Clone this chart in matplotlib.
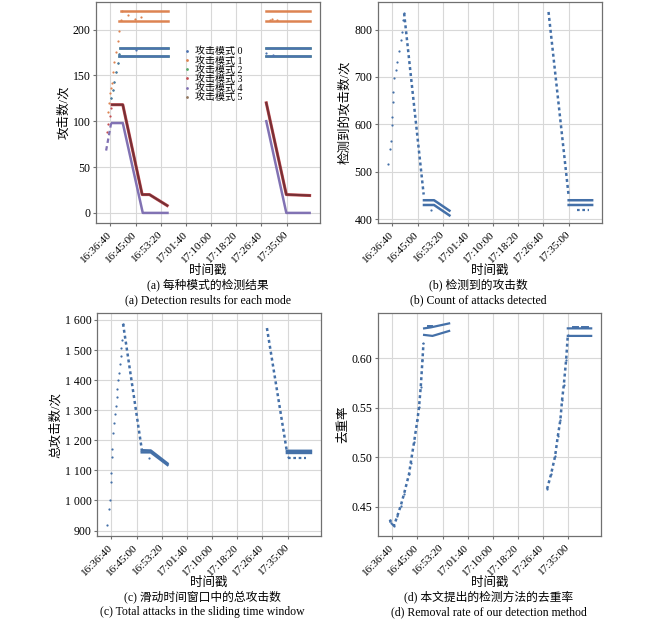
import matplotlib
matplotlib.use('Agg')
import matplotlib.pyplot as plt
from matplotlib.ticker import FuncFormatter, MultipleLocator

plt.rcParams['font.family'] = ['Liberation Serif', 'Noto Sans CJK SC']
plt.rcParams['axes.unicode_minus'] = False

# time in seconds after 16:36:40
T0 = 16 * 3600 + 36 * 60 + 40
xticks = [0, 500, 1000, 1500, 2000, 2500, 3000, 3500]

BLUE = '#4470a8'
mode_colors = ['#4c72b0', '#dd8452', '#55a868', '#c44e52', '#8172b3', '#937860']
mode_names = ['攻击模式 0', '攻击模式 1', '攻击模式 2', '攻击模式 3', '攻击模式 4', '攻击模式 5']

# ---- (a) detection result of each mode ----
m0_ramp_t = [14, 46, 80, 113, 145, 179]
m0_ramp_v = [125, 134, 143, 154, 163, 173]
m0_hi_t = [199, 1135, None, 3082, 3960]
m0_hi_v = [180, 180, None, 180, 180]
m0_lo_t = [165, 1135, None, 3082, 3960]
m0_lo_v = [171, 171, None, 171, 171]
m0_out_t = [511, 3082, 3227]
m0_out_v = [178, 174, 172]

m1_ramp_t = [-54, -20, 0, 14, 26, 46, 80, 113, 145, 179, 213, 233]
m1_ramp_v = [110, 120, 131, 136, 142, 154, 165, 176, 187, 198, 210, 220]
m1_hi_t = [213, 1139, None, 3082, 3960]
m1_hi_v = [220, 220, None, 220, 220]
m1_lo_t = [179, 1139, None, 3082, 3960]
m1_lo_v = [209, 209, None, 209, 209]
m1_out_t = [344, 482, 610, 3161, 3215, 3307]
m1_out_v = [215.5, 211, 214, 210, 211, 210.5]

m3_t = [34, 245, 630, 775, 1127, None, 3095, 3493, 3956]
m3_v = [118, 118, 20, 20, 8, None, 120, 20, 19]
m3_ramp_t = [-70, -40, -10, 15]
m3_ramp_v = [88, 97, 106, 114]

m4_t = [34, 245, 642, 1133, None, 3095, 3493, 3956]
m4_v = [98, 98, 0, 0, None, 100, 0, 0]
m4_ramp_t = [-86, 14]
m4_ramp_v = [68, 98]

# ---- (b) detected attacks ----
b_ramp_t = [-88, -48, -34, -14, -14, 12, 12, 32, 66, 100, 132, 166, 186, 212, 232]
b_ramp_v = [517, 547, 565, 598, 615, 648, 668, 697, 715, 732, 755, 778, 795, 820, 834]
b_down_t = [232, 620, None, 3100, 3500]
b_down_v = [834, 452, None, 837, 449]
b_hi_t = [626, 826, 1132, None, 3500, 3966]
b_hi_v = [440, 440, 418, None, 440, 440]
b_lo_t = [626, 826, 1132, None, 3500, 3966]
b_lo_v = [430, 430, 408, None, 430, 430]
b_low_t = [3666, 3900]
b_low_v = [420, 420]
b_out_t = [760]
b_out_v = [420]

# ---- (c) total attacks in sliding window ----
c_ramp_t = [-80, -48, -34, -14, -14, 6, 20, 40, 52, 66, 85, 105, 119, 139, 151, 165, 185, 199, 205, 231]
c_ramp_v = [917, 972, 1002, 1060, 1090, 1144, 1172, 1225, 1258, 1287, 1313, 1344, 1369, 1399, 1424,
            1454, 1479, 1508, 1534, 1587]
c_down_t = [231, 602, None, 3088, 3485]
c_down_v = [1587, 1170, None, 1573, 1162]
c_hi_t = [602, 781, 1113, None, 3485, 3962]
c_hi_v = [1167, 1166, 1123, None, 1165, 1165]
c_lo_t = [602, 781, 1113, None, 3485, 3962]
c_lo_v = [1160, 1160, 1118, None, 1158, 1158]
c_low_t = [3500, 3870]
c_low_v = [1140, 1140]
c_out_t = [740, 3510]
c_out_v = [1140, 1145]

# ---- (d) removal rate ----
d_rise_t = [-48, -34, -14, 32, 100, 166, 232, 332, 366, 432, 500, 532, 566, 600, 620, None,
            3086, 3166, 3246, 3300, 3352, 3386, 3420, 3466, 3500]
d_rise_v = [0.437, 0.434, 0.433, 0.431, 0.441, 0.451, 0.463, 0.483, 0.4945, 0.515, 0.538, 0.551,
            0.571, 0.598, 0.615, None, 0.468, 0.483, 0.501, 0.521, 0.538, 0.558, 0.573, 0.598, 0.623]
d_hi_t = [633, 766, 1132, None, 3500, 3966]
d_hi_v = [0.630, 0.631, 0.635, None, 0.630, 0.630]
d_lo_t = [633, 800, 1132, None, 3500, 3966]
d_lo_v = [0.6234, 0.6224, 0.6274, None, 0.6224, 0.6224]
d_mid_t = [720, 790, None, 3600, 3700, None, 3780, 3900]
d_mid_v = [0.632, 0.632, None, 0.6315, 0.6315, None, 0.6315, 0.6315]


def nan(v):
    return [float('nan') if x is None else x for x in v]


def fmt_time(t, pos):
    s = int(round(T0 + t))
    return '%02d:%02d:%02d' % (s // 3600, (s // 60) % 60, s % 60)


def fmt_thousand(v, pos):
    v = int(round(v))
    if v >= 1000:
        return '%d %03d' % (v // 1000, v % 1000)
    return '%d' % v


def style(ax, ylabel):
    ax.set_xticks(xticks)
    ax.xaxis.set_major_formatter(FuncFormatter(fmt_time))
    ax.set_xlim(-287, 4162)
    ax.grid(True, color='#d8d8d8', lw=0.8)
    ax.set_axisbelow(True)
    for s in ax.spines.values():
        s.set_color('#707070')
        s.set_linewidth(0.9)
    ax.tick_params(length=2.5, width=0.8, color='#707070', labelsize=8.5)
    ax.tick_params(axis='y', pad=1.5)
    ax.tick_params(axis='x', pad=4.5, labelsize=8)
    plt.setp(ax.get_xticklabels(), rotation=45, ha='right', va='center', rotation_mode='anchor')
    ax.set_ylabel(ylabel, fontsize=9, labelpad=2)


fig = plt.figure(figsize=(6.5, 6.21), dpi=100)
W, H = 650.0, 621.0


def add_ax(l, t, r, b):
    return fig.add_axes([l / W, 1 - b / H, (r - l) / W, (b - t) / H])


ax_a = add_ax(96, 2, 320, 223)
ax_b = add_ax(378, 2, 602, 223)
ax_c = add_ax(97, 313, 321, 536)
ax_d = add_ax(378, 313, 601, 536)

ms = 1.6
dot = (0, (1.2, 1.2))

# (a)
ax = ax_a
ax.plot(m0_ramp_t, m0_ramp_v, 'o', color=mode_colors[2], ms=ms, mew=0, zorder=2)
ax.plot(nan(m0_hi_t), nan(m0_hi_v), color=mode_colors[2], lw=1.8, zorder=2)
ax.plot(nan(m0_lo_t), nan(m0_lo_v), color=mode_colors[2], lw=1.8, zorder=2)
ax.plot(m0_ramp_t, m0_ramp_v, 'o', color=mode_colors[0], ms=ms, mew=0, zorder=3)
ax.plot(nan(m0_hi_t), nan(m0_hi_v), color=mode_colors[0], lw=1.8, zorder=3)
ax.plot(nan(m0_lo_t), nan(m0_lo_v), color=mode_colors[0], lw=1.8, zorder=3)
ax.plot(m0_out_t, m0_out_v, 'o', color=mode_colors[0], ms=ms, mew=0, zorder=3)
ax.plot(m1_ramp_t, m1_ramp_v, 'o', color=mode_colors[1], ms=ms, mew=0, zorder=3)
ax.plot(nan(m1_hi_t), nan(m1_hi_v), color=mode_colors[1], lw=1.8, zorder=3)
ax.plot(nan(m1_lo_t), nan(m1_lo_v), color=mode_colors[1], lw=1.8, zorder=3)
ax.plot(m1_out_t, m1_out_v, 'o', color=mode_colors[1], ms=ms, mew=0, zorder=3)
ax.plot(nan(m3_t), nan(m3_v), color=mode_colors[3], lw=2.2, zorder=3)
ax.plot(nan(m3_t), nan(m3_v), color='#6a2a30', lw=1.5, alpha=0.85, zorder=3)
ax.plot(m3_ramp_t, m3_ramp_v, 'o', color=mode_colors[3], ms=ms, mew=0, zorder=3)
ax.plot(nan(m4_t), nan(m4_v), color=mode_colors[4], lw=1.8, zorder=3)
ax.plot(m4_ramp_t, m4_ramp_v, color=mode_colors[4], lw=1.6, ls=(0, (2, 1.5)), zorder=3)
handles = [plt.Line2D([], [], ls='none', marker='o', ms=2, mew=0, color=c) for c in mode_colors]
ax.legend(handles, mode_names, loc='upper left', bbox_to_anchor=(0.37, 0.82), frameon=False,
          fontsize=7.2, handlelength=0.6, handletextpad=0.5, labelspacing=-0.05, borderpad=0)
ax.set_ylim(-11, 230)
ax.yaxis.set_major_locator(MultipleLocator(50))
style(ax, '攻击数/次')

# (b)
ax = ax_b
ax.plot(b_ramp_t, b_ramp_v, 'o', color=BLUE, ms=ms, mew=0)
ax.plot(nan(b_down_t), nan(b_down_v), color=BLUE, lw=1.8, ls=dot)
ax.plot(nan(b_hi_t), nan(b_hi_v), color=BLUE, lw=1.8)
ax.plot(nan(b_lo_t), nan(b_lo_v), color=BLUE, lw=1.8)
ax.plot(b_low_t, b_low_v, color=BLUE, lw=1.6, ls=dot)
ax.plot(b_out_t, b_out_v, 'o', color=BLUE, ms=ms, mew=0)
ax.set_ylim(392, 858)
ax.yaxis.set_major_locator(MultipleLocator(100))
style(ax, '检测到的攻击数/次')

# (c)
ax = ax_c
ax.plot(c_ramp_t, c_ramp_v, 'o', color=BLUE, ms=ms, mew=0)
ax.plot(nan(c_down_t), nan(c_down_v), color=BLUE, lw=1.8, ls=dot)
ax.plot(nan(c_hi_t), nan(c_hi_v), color=BLUE, lw=1.8)
ax.plot(nan(c_lo_t), nan(c_lo_v), color=BLUE, lw=1.8)
ax.plot(c_low_t, c_low_v, color=BLUE, lw=1.6, ls=dot)
ax.plot(c_out_t, c_out_v, 'o', color=BLUE, ms=ms, mew=0)
ax.set_ylim(882, 1623)
ax.yaxis.set_major_locator(MultipleLocator(100))
ax.yaxis.set_major_formatter(FuncFormatter(fmt_thousand))
style(ax, '总攻击数/次')

# (d)
ax = ax_d
ax.plot(nan(d_rise_t), nan(d_rise_v), color=BLUE, lw=1.8, ls=dot, marker='o', ms=ms, mew=0)
ax.plot(nan(d_hi_t), nan(d_hi_v), color=BLUE, lw=1.6)
ax.plot(nan(d_lo_t), nan(d_lo_v), color=BLUE, lw=1.6)
ax.plot(nan(d_mid_t), nan(d_mid_v), color=BLUE, lw=1.4)
ax.set_ylim(0.4206, 0.6455)
ax.yaxis.set_major_locator(MultipleLocator(0.05))
ax.yaxis.set_major_formatter(FuncFormatter(lambda v, p: '%.2f' % v))
style(ax, '去重率')

# captions
captions = [
    (208, 271, '(a) 每种模式的检测结果', '(a) Detection results for each mode'),
    (478, 271, '(b) 检测到的攻击数', '(b) Count of attacks detected'),
    (202, 583, '(c) 滑动时间窗口中的总攻击数', '(c) Total attacks in the sliding time window'),
    (489, 583, '(d) 本文提出的检测方法的去重率', '(d) Removal rate of our detection method'),
]
xcenters = [208, 490, 209, 490]
for (cx, cy, zh, en), xc in zip(captions, xcenters):
    fig.text(xc / W, 1 - cy / H, '时间戳', ha='center', va='center', fontsize=9)
    fig.text(cx / W, 1 - (cy + 14) / H, zh, ha='center', va='center', fontsize=8.5)
    fig.text(cx / W, 1 - (cy + 29) / H, en, ha='center', va='center', fontsize=8.5)

fig.savefig('out.png', dpi=100)
